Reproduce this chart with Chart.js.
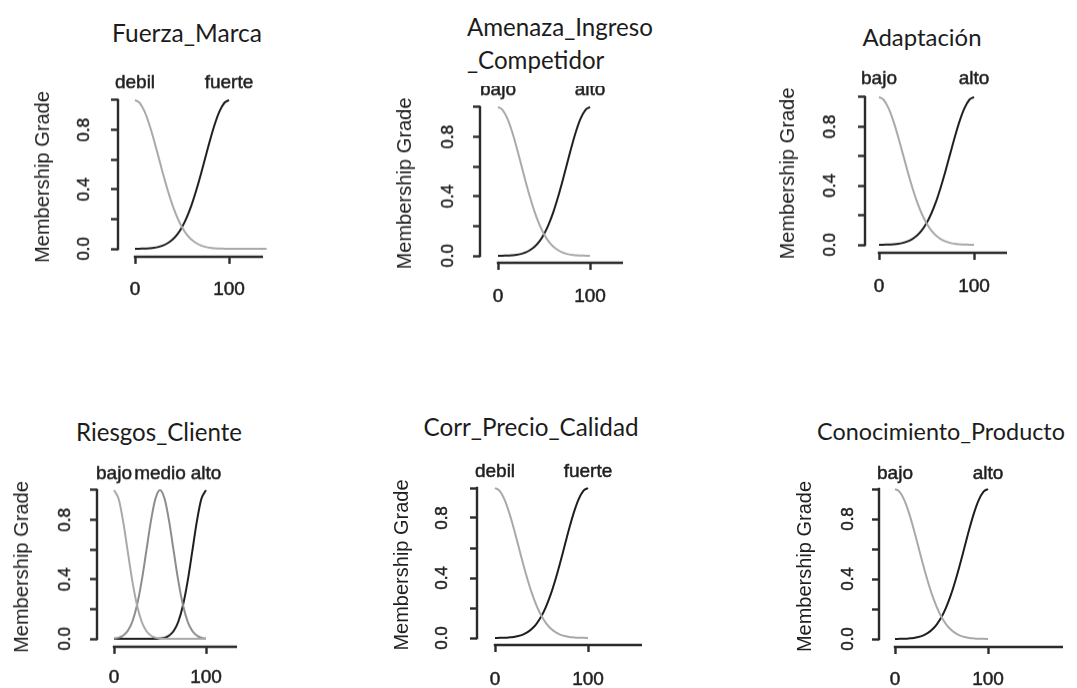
<!DOCTYPE html>
<html>
<head>
<meta charset="utf-8">
<script src="https://cdn.jsdelivr.net/npm/chart.js@4.4.1/dist/chart.umd.min.js"></script>
<style>
  html, body { margin: 0; padding: 0; background: #ffffff; }
  body { width: 1077px; height: 688px; position: relative; overflow: hidden; }
  canvas { position: absolute; }
  .ttl { position: absolute; white-space: nowrap; color: #1c1c1c; font-family: Lato, "Open Sans", sans-serif; line-height: 1; }
  .mask { position: absolute; background: #ffffff; }
</style>
</head>
<body>
<script>
// ---------------- DATA ----------------
const xPoints     = [0,5,10,15,20,25,30,35,40,45,50,55,60,65,70,75,80,85,90,95,100];
const xPointsLong = [0,5,10,15,20,25,30,35,40,45,50,55,60,65,70,75,80,85,90,95,100,105,110,115,120,125,130,135,140];

// two-set panels (low set falls from 1 at 0, high set rises to 1 at 100)
const lowValues  = [1.000,0.981,0.926,0.841,0.735,0.618,0.500,0.390,0.292,0.211,0.146,0.098,0.063,0.039,0.023,0.013,0.007,0.004,0.002,0.001,0.000];
const lowValuesLong = [1.000,0.981,0.926,0.841,0.735,0.618,0.500,0.390,0.292,0.211,0.146,0.098,0.063,0.039,0.023,0.013,0.007,0.004,0.002,0.001,0.000,0,0,0,0,0,0,0,0];
const highValues = [0.000,0.001,0.002,0.004,0.007,0.013,0.023,0.039,0.063,0.098,0.146,0.211,0.292,0.390,0.500,0.618,0.735,0.841,0.926,0.981,1.000];

// Riesgos_Cliente (three sets)
const riesgoBajo  = [1.000,0.942,0.788,0.585,0.386,0.226,0.117,0.054,0.022,0.008,0.003,0,0,0,0,0,0,0,0,0,0];
const riesgoMedio = [0.003,0.008,0.022,0.054,0.117,0.226,0.386,0.585,0.788,0.942,1.000,0.942,0.788,0.585,0.386,0.226,0.117,0.054,0.022,0.008,0.003];
const riesgoAlto  = [0,0,0,0,0,0,0,0,0,0,0.003,0.008,0.022,0.054,0.117,0.226,0.386,0.585,0.788,0.942,1.000];

const panelTitles = ['Fuerza_Marca', 'Amenaza_Ingreso', 'Adaptación', 'Riesgos_Cliente', 'Corr_Precio_Calidad', 'Conocimiento_Producto'];
const titleSecondLine = '_Competidor';

const setNamesFM  = ['debil', 'fuerte'];
const setNamesBA  = ['bajo', 'alto'];
const setNamesRC  = ['bajo', 'medio', 'alto'];
const setPeaks2   = [0, 100];
const setPeaks3   = [0, 50, 100];

const yTickValues = [0, 0.2, 0.4, 0.6, 0.8, 1.0];
const yTickLabels = ['0.0', '', '0.4', '', '0.8', ''];
const xTickValues = [0, 100];
const xTickLabels = ['0', '100'];
const yAxisTitle  = 'Membership Grade';

// ---------------- STYLE / LAYOUT ----------------
const LIGHT = '#a9a9a9', MID = '#8c8c8c', DARK = '#1e1e1e';
const AXIS_COLOR = '#2b2b2b', TEXT_COLOR = '#1f1f1f';
const SANS = "'Liberation Sans', Arial, sans-serif";
const SW = 90, TH = 40, BH = 52, RP = 12, TICKLEN = 7;
const Y_TICK_FONT = 17, X_TICK_FONT = 19, SET_FONT = 19, MG_FONT = 20;
const STROKE = 0.5;

// pixel anchors measured on the reference for each panel
const layouts = [
  {yAx:118, x0:135, x100:229, y0:249, y1:100, xAx:257, xEnd:263, yLab:84,  mg:43,  setY:83,  xTickY:290},
  {yAx:480, x0:498, x100:590, y0:256, y1:107, xAx:263, xEnd:623, yLab:448, mg:405, setY:90,  xTickY:297},
  {yAx:865, x0:879, x100:974, y0:245, y1:97,  xAx:253, xEnd:1007,yLab:830, mg:788, setY:79,  xTickY:287},
  {yAx:97,  x0:114, x100:206, y0:639, y1:490, xAx:647, xEnd:237, yLab:65,  mg:22,  setY:474, xTickY:678},
  {yAx:477, x0:495, x100:588, y0:638, y1:488, xAx:645, xEnd:642, yLab:442, mg:402, setY:472, xTickY:680},
  {yAx:879, x0:895, x100:988, y0:639, y1:489, xAx:647, xEnd:1063,yLab:848, mg:805, setY:474, xTickY:680}
];

const panelSeries = [
  {names: setNamesFM, peaks: setPeaks2, lines: [[xPointsLong, lowValuesLong, LIGHT], [xPoints, highValues, DARK]]},
  {names: setNamesBA, peaks: setPeaks2, lines: [[xPoints, lowValues, LIGHT], [xPoints, highValues, DARK]]},
  {names: setNamesBA, peaks: setPeaks2, lines: [[xPoints, lowValues, LIGHT], [xPoints, highValues, DARK]]},
  {names: setNamesRC, peaks: setPeaks3, lines: [[xPoints, riesgoBajo, LIGHT], [xPoints, riesgoMedio, MID], [xPoints, riesgoAlto, DARK]]},
  {names: setNamesFM, peaks: setPeaks2, lines: [[xPoints, lowValues, LIGHT], [xPoints, highValues, DARK]]},
  {names: setNamesBA, peaks: setPeaks2, lines: [[xPoints, lowValues, LIGHT], [xPoints, highValues, DARK]]}
];

// title anchors: [centerX, centerY, targetWidth]
const titleAnchors = [
  [187, 33, 150], [467, 27, 186], [922, 37, 119], [159, 432, 166], [531, 427, 215], [941, 432, 248]
];

// R-style detached axis lines
const rAxisPlugin = {
  id: 'rAxis',
  afterDraw(chart) {
    const {ctx, chartArea} = chart;
    const x = chart.scales.x, y = chart.scales.y;
    ctx.save();
    ctx.strokeStyle = AXIS_COLOR;
    ctx.lineWidth = 2.4;
    ctx.beginPath();
    ctx.moveTo(Math.round(chartArea.left), y.getPixelForValue(0) + 1.2);
    ctx.lineTo(Math.round(chartArea.left), y.getPixelForValue(1) - 1.2);
    ctx.moveTo(x.getPixelForValue(0) - 1.2, Math.round(chartArea.bottom));
    ctx.lineTo(chartArea.right, Math.round(chartArea.bottom));
    ctx.stroke();
    ctx.restore();
  }
};

function makePanel(L, S) {
  const k = (L.x100 - L.x0) / 100;
  const xMin = -(L.x0 - L.yAx) / k;
  const xMax = (L.xEnd - L.x0) / k;
  const ky = L.y0 - L.y1;
  const yMin = -(L.xAx - L.y0) / ky;
  const yMax = 1.02;
  const chartTop = L.y1 - 0.02 * ky;

  const left = L.yAx - SW;
  const top = chartTop - TH;
  const width = (L.xEnd - left) + RP;
  const height = (L.xAx + BH) - top;

  const cv = document.createElement('canvas');
  cv.width = width; cv.height = height;
  cv.style.left = left + 'px'; cv.style.top = top + 'px';
  cv.style.width = width + 'px'; cv.style.height = height + 'px';
  document.body.appendChild(cv);

  const datasets = S.lines.map(([xs, ys, col]) => ({
    data: xs.map((xv, i) => ({x: xv, y: ys[i]})),
    borderColor: col,
    borderWidth: 2,
    pointRadius: 0,
    fill: false,
    cubicInterpolationMode: 'monotone',
    clip: false
  }));

  const yTickPad = (L.yAx - L.yLab) - TICKLEN - Y_TICK_FONT * 1.39 / 2;
  const xTickPad = (L.xTickY - L.xAx) - TICKLEN - X_TICK_FONT * 1.2 / 2;
  const setPad = (chartTop - L.setY) - SET_FONT * 1.2 / 2;
  const mgPad = (L.mg - left) - MG_FONT * 1.2 / 2;

  new Chart(cv, {
    type: 'line',
    data: {datasets},
    options: {
      responsive: false,
      animation: false,
      devicePixelRatio: 1,
      layout: {padding: {left: 0, right: RP, top: 0, bottom: 0}},
      plugins: {legend: {display: false}, tooltip: {enabled: false}, title: {display: false}},
      scales: {
        x: {
          type: 'linear', position: 'bottom', min: xMin, max: xMax,
          border: {display: false},
          grid: {display: true, drawOnChartArea: false, drawTicks: true, tickLength: TICKLEN, tickColor: AXIS_COLOR, tickWidth: 2.4},
          ticks: {autoSkip: false, maxRotation: 0, padding: xTickPad, color: TEXT_COLOR,
                  textStrokeColor: TEXT_COLOR, textStrokeWidth: STROKE,
                  font: {family: SANS, size: X_TICK_FONT},
                  callback: (v, i) => xTickLabels[i]},
          afterBuildTicks: s => { s.ticks = xTickValues.map(v => ({value: v})); },
          afterFit: s => { s.height = BH; }
        },
        x2: {
          type: 'linear', axis: 'x', position: 'top', min: xMin, max: xMax,
          border: {display: false},
          grid: {display: false, drawTicks: false},
          ticks: {autoSkip: false, maxRotation: 0, padding: setPad, color: TEXT_COLOR,
                  textStrokeColor: TEXT_COLOR, textStrokeWidth: STROKE,
                  font: {family: SANS, size: SET_FONT},
                  callback: (v, i) => S.names[i]},
          afterBuildTicks: s => { s.ticks = S.peaks.map(v => ({value: v})); },
          afterFit: s => { s.height = TH; }
        },
        y: {
          type: 'linear', position: 'left', min: yMin, max: yMax,
          border: {display: false},
          grid: {display: true, drawOnChartArea: false, drawTicks: true, tickLength: TICKLEN, tickColor: AXIS_COLOR, tickWidth: 2.4},
          ticks: {autoSkip: false, minRotation: 90, maxRotation: 90, crossAlign: 'center',
                  padding: yTickPad, color: TEXT_COLOR,
                  textStrokeColor: TEXT_COLOR, textStrokeWidth: STROKE,
                  font: {family: SANS, size: Y_TICK_FONT},
                  callback: (v, i) => yTickLabels[i]},
          afterBuildTicks: s => { s.ticks = yTickValues.map(v => ({value: v})); },
          title: {display: true, text: yAxisTitle, color: TEXT_COLOR,
                  font: {family: SANS, size: MG_FONT}, padding: {top: mgPad, bottom: 0}},
          afterFit: s => { s.width = SW; }
        }
      }
    },
    plugins: [rAxisPlugin]
  });
}

for (let i = 0; i < layouts.length; i++) makePanel(layouts[i], panelSeries[i]);

// titles
const mctx = document.createElement('canvas').getContext('2d');
function fitSize(text, w) {
  mctx.font = '100px Lato';
  return 100 * w / mctx.measureText(text).width;
}
// mask that hides the top of the set labels under the two-line title
const mask = document.createElement('div');
mask.className = 'mask';
Object.assign(mask.style, {left: '462px', top: '6px', width: '200px', height: '80px'});
document.body.appendChild(mask);

panelTitles.forEach((t, i) => {
  const [cx, cy, w] = titleAnchors[i];
  const fs = fitSize(t, w);
  const d = document.createElement('div');
  d.className = 'ttl';
  d.textContent = t;
  d.style.fontSize = fs + 'px';
  if (i === 1) {
    d.style.left = cx + 'px';
    d.style.top = cy + 'px';
    d.style.transform = 'translateY(-50%)';
    document.body.appendChild(d);
    const d2 = document.createElement('div');
    d2.className = 'ttl';
    d2.textContent = titleSecondLine;
    d2.style.fontSize = fs + 'px';
    d2.style.left = cx + 'px';
    d2.style.top = (cy + 33) + 'px';
    d2.style.transform = 'translateY(-50%)';
    document.body.appendChild(d2);
  } else {
    d.style.left = cx + 'px';
    d.style.top = cy + 'px';
    d.style.transform = 'translate(-50%, -50%)';
    document.body.appendChild(d);
  }
});
</script>
</body>
</html>
